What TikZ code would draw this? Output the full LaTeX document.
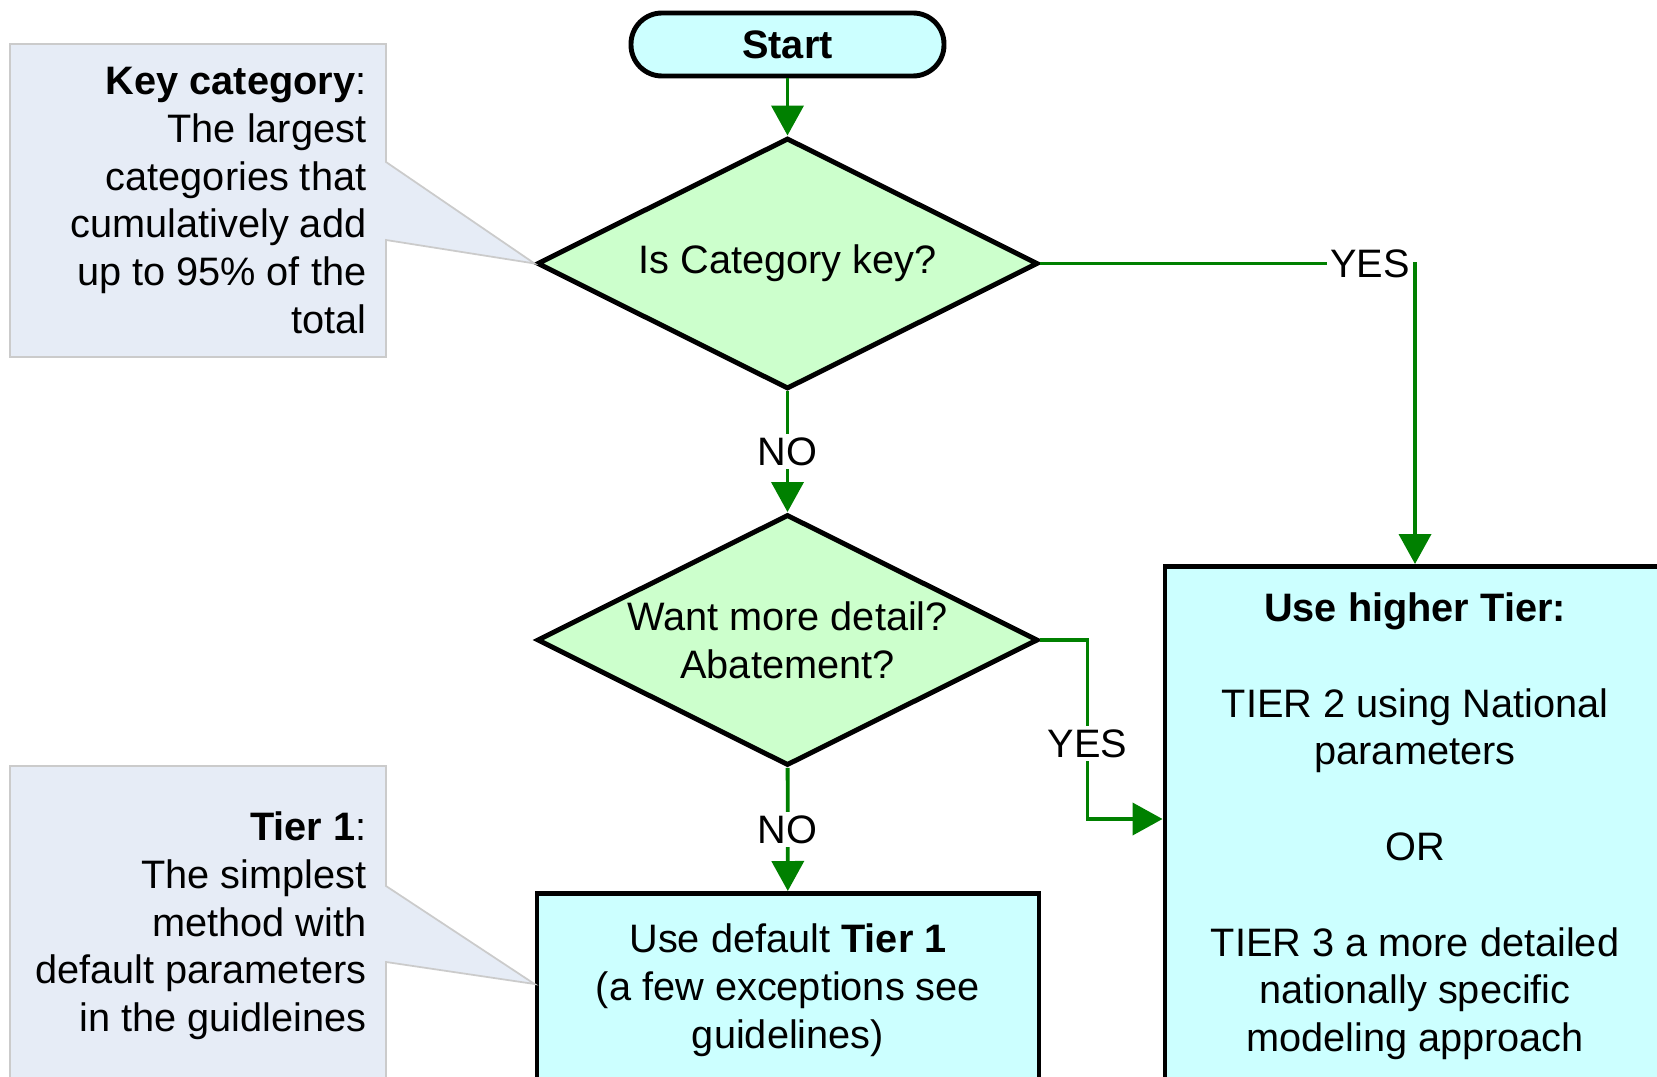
\documentclass[tikz,border=0pt]{standalone}
\usepackage{fontspec}
\setmainfont{Liberation Sans}
\usetikzlibrary{arrows.meta,calc,positioning,shapes.geometric}
\definecolor{flgreen}{HTML}{008000}
\definecolor{flcyan}{HTML}{CCFFFF}
\definecolor{fllime}{HTML}{CCFFCC}
\definecolor{flnote}{HTML}{E6ECF6}
\definecolor{flnoteline}{HTML}{CBCBCB}
\newcommand{\flowfont}{\fontsize{11.3pt}{13.6pt}\selectfont}

\begin{document}
\begin{tikzpicture}[
 terminal/.style={draw,line width=1.4pt,fill=flcyan,rounded corners=3.1mm,minimum width=3.13cm,minimum height=6.3mm,font=\flowfont\bfseries},
 decision/.style={diamond,draw,line width=1.4pt,fill=fllime,minimum width=5.01cm,minimum height=2.51cm,inner sep=0pt,aspect=2,font=\flowfont,align=center},
 process/.style={draw,line width=1.4pt,fill=flcyan,minimum width=5.02cm,anchor=north},
 boxtext/.style={font=\flowfont,align=center,inner sep=0pt},
 note/.style={draw=flnoteline,fill=flnote,line width=0.5pt},
 notetext/.style={font=\flowfont,align=right,inner sep=0pt,anchor=north east},
 flow/.style={draw=flgreen,line width=1.1pt,-{Triangle[length=3mm,width=3.2mm]}},
 lbl/.style={fill=white,inner sep=1pt,font=\flowfont}
]
\useasboundingbox (0,0) rectangle (16.57,-10.77);
\clip (0,0) rectangle (16.57,-10.77);

\node[terminal] (start) at (7.875,-0.445) {Start};
\node[decision] (d1) at (7.875,-2.635) {Is Category key?};
\node[decision] (d2) at (7.875,-6.40) {Want more detail?\\Abatement?};
\node[process,minimum height=3cm] (t1) at (7.88,-8.91) {};
\node[boxtext,below=0.32cm of t1.north] (t1txt) {Use default \textbf{Tier 1}\\(a few exceptions see\\guidelines)};
\node[process,minimum width=5.0cm,minimum height=6cm] (hi) at (14.15,-5.64) {};
\node[boxtext,below=0.28cm of hi.north] (hitxt) {\textbf{Use higher Tier:}\\[13.6pt]TIER 2 using National\\parameters\\[13.6pt]OR\\[13.6pt]TIER 3 a more detailed\\nationally specific\\modeling approach};

% callouts
\draw[note] (0.10,-0.44) -- (3.86,-0.44) -- (3.86,-1.62) -- (d1.west) -- (3.86,-2.40) -- (3.86,-3.57) -- (0.10,-3.57) -- cycle;
\node[notetext] (keynote) at (3.67,-0.665) {\textbf{Key category}:\\The largest\\categories that\\cumulatively add\\up to 95\% of the\\total};
\draw[note] (0.10,-7.66) -- (3.86,-7.66) -- (3.86,-8.86) -- (t1.west |- 0,-9.84) -- (3.86,-9.62) -- (3.86,-11.2) -- (0.10,-11.2) -- cycle;
\node[notetext] (tiernote) at (3.67,-8.11) {\textbf{Tier 1}:\\The simplest\\method with\\default parameters\\in the guidleines};

% connectors
\draw[flow] (start) -- (d1);
\draw[flow] (d1) -- node[lbl]{NO} (d2);
\draw[flow] (d2) -- node[lbl]{NO} (t1);
\draw[flow] (d1.east) -| node[lbl,anchor=east,pos=0.5]{YES} (hi.north);
\draw[flow] (d2.east) -- ++(0.47,0) |- node[lbl,pos=0.29]{YES} ($(hi.north west)+(0,-2.55)$);
\end{tikzpicture}
\end{document}
